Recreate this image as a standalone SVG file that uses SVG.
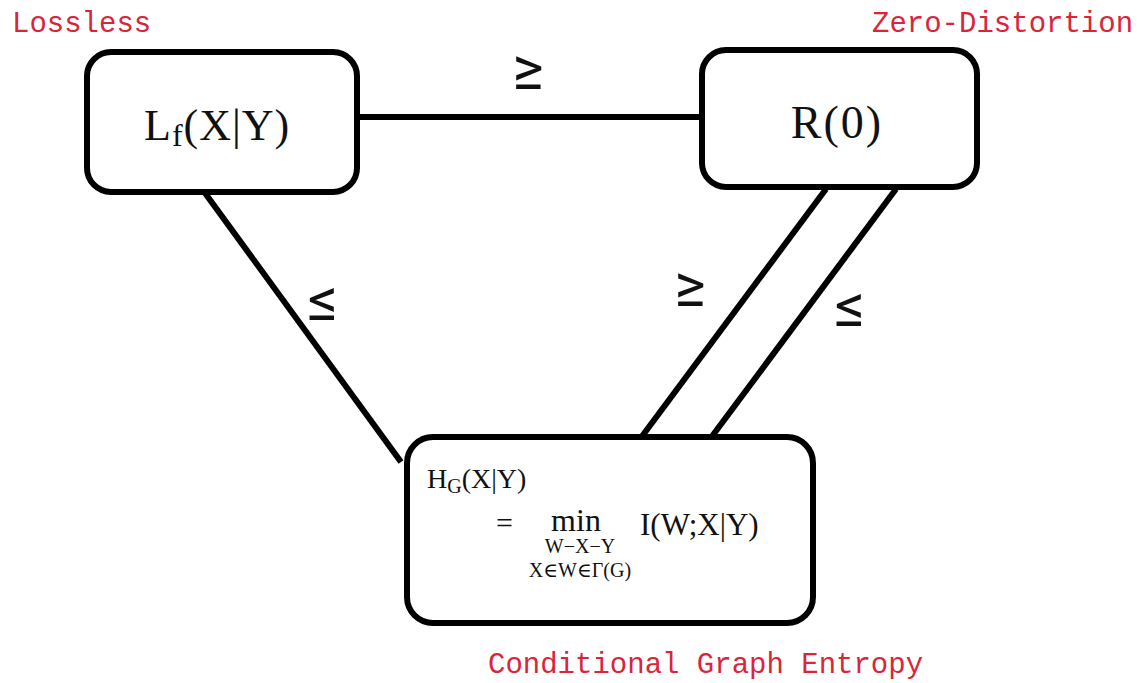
<svg xmlns="http://www.w3.org/2000/svg" width="1142" height="683" viewBox="0 0 1142 683">
<style>
.box{fill:#fff;stroke:#000;stroke-width:6}
.edge{stroke:#000;stroke-width:6;fill:none}
.red{font-family:"Liberation Mono",monospace;font-size:29px;fill:#d9253a}
.math{font-family:"Liberation Serif","DejaVu Serif",serif;fill:#111}
.rel{font-family:"Noto Sans",Roboto,sans-serif;font-size:60px;fill:#111}
</style>
<rect width="1142" height="683" fill="#fff"/>
<g id="connectors">
<line class="edge" x1="357" y1="117" x2="702" y2="117"/>
<line class="edge" x1="205" y1="193" x2="401" y2="462"/>
<line class="edge" x1="826" y1="189" x2="640" y2="439"/>
<line class="edge" x1="896" y1="189" x2="710" y2="439"/>
<text class="rel" x="528" y="89" text-anchor="middle">≥</text>
<text class="rel" x="323" y="320" text-anchor="middle">≤</text>
<text class="rel" x="690" y="306" text-anchor="middle">≥</text>
<text class="rel" x="850" y="326" text-anchor="middle">≤</text>
</g>
<g id="node-lf">
<rect class="box" x="87" y="52" width="270" height="140" rx="24"/>
<text class="math" x="144" y="140" font-size="44" letter-spacing="1">L<tspan font-size="32" dy="6">f</tspan><tspan dy="-6">(X|Y)</tspan></text>
</g>
<g id="node-r0">
<rect class="box" x="702" y="50" width="275" height="137" rx="24"/>
<text class="math" x="837" y="138" font-size="46" letter-spacing="2" text-anchor="middle">R(0)</text>
</g>
<g id="node-hg">
<rect class="box" x="407" y="437" width="406" height="186" rx="26"/>
<text class="math" x="427" y="488" font-size="28">H<tspan font-size="20" dy="5">G</tspan><tspan dy="-5">(X|Y)</tspan></text>
<text class="math" x="496" y="533" font-size="30">=</text>
<text class="math" x="576" y="531" font-size="32" text-anchor="middle">min</text>
<text class="math" x="580" y="553" font-size="20" text-anchor="middle">W−X−Y</text>
<text class="math" x="580" y="577" font-size="20" text-anchor="middle">X∈W∈Γ(G)</text>
<text class="math" x="640" y="535" font-size="31">I(W;X|Y)</text>
</g>
<g id="labels">
<text class="red" x="12" y="32">Lossless</text>
<text class="red" x="872" y="32">Zero-Distortion</text>
<text class="red" x="488" y="673">Conditional Graph Entropy</text>
</g>
</svg>
